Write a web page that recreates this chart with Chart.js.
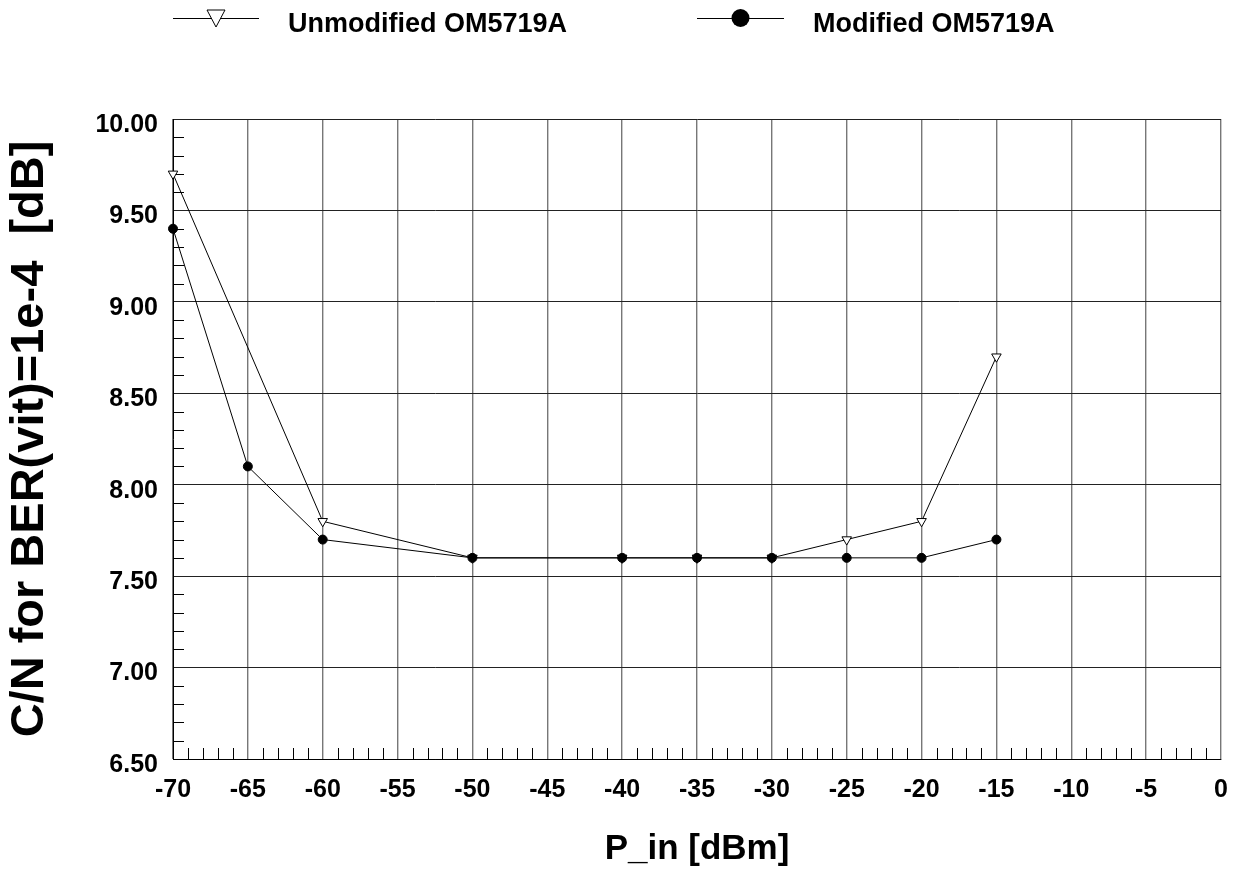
<!DOCTYPE html>
<html>
<head>
<meta charset="utf-8">
<title>C/N vs P_in</title>
<script src="https://cdn.jsdelivr.net/npm/chart.js@4/dist/chart.umd.min.js"></script>
<style>
    html, body { margin: 0; padding: 0; background: #fff; }
</style>
</head>
<body>
<canvas id="cn-chart" width="1239" height="870"></canvas>
<script>
var pinUnmod = [-70, -60, -50, -40, -35, -30, -25, -20, -15];
var cnUnmod  = [9.7, 7.8, 7.6, 7.6, 7.6, 7.6, 7.7, 7.8, 8.7];

var pinMod = [-70, -65, -60, -50, -40, -35, -30, -25, -20, -15];
var cnMod  = [9.4, 8.1, 7.7, 7.6, 7.6, 7.6, 7.6, 7.6, 7.6, 7.7];

var seriesLabels = ['Unmodified OM5719A', 'Modified OM5719A'];

var xTitle = 'P_in [dBm]';
var yTitle = 'C/N for BER(vit)=1e-4  [dB]';

var FONT = "'Liberation Sans', Arial, sans-serif";

function toPoints(xs, ys) {
    return xs.map(function (x, i) { return { x: x, y: ys[i] }; });
}

// legend: a line with the marker in the middle, text to the right
var legendSlots = [
    { from: 173, to: 259, textX: 288 },
    { from: 697, to: 784, textX: 813 }
];

var lineLegend = {
    id: 'lineLegend',
    afterDraw: function (chart) {
        var ctx = chart.ctx;
        chart.data.datasets.forEach(function (ds, i) {
            var slot = legendSlots[i];
            var ly = 18;
            var mx = (slot.from + slot.to) / 2;
            ctx.save();
            ctx.strokeStyle = '#000';
            ctx.lineWidth = 1;
            ctx.beginPath();
            ctx.moveTo(slot.from, ly + 0.5);
            ctx.lineTo(slot.to, ly + 0.5);
            ctx.stroke();
            ctx.beginPath();
            if (ds.pointStyle === 'triangle') {
                ctx.moveTo(mx - 9, ly - 8);
                ctx.lineTo(mx + 9, ly - 8);
                ctx.lineTo(mx, ly + 9);
                ctx.closePath();
                ctx.fillStyle = '#fff';
                ctx.fill();
                ctx.stroke();
            } else {
                ctx.arc(mx, ly, 9, 0, Math.PI * 2);
                ctx.fillStyle = '#000';
                ctx.fill();
            }
            ctx.fillStyle = '#000';
            ctx.font = 'bold 27px ' + FONT;
            ctx.textBaseline = 'middle';
            ctx.textAlign = 'left';
            ctx.fillText(ds.label, slot.textX, 25);
            ctx.restore();
        });
    }
};

// small inside tick marks between the grid lines
var minorTicks = {
    id: 'minorTicks',
    beforeDatasetsDraw: function (chart) {
        var ctx = chart.ctx, xs = chart.scales.x, ys = chart.scales.y, a = chart.chartArea;
        ctx.save();
        ctx.strokeStyle = '#000';
        ctx.lineWidth = 1;
        ctx.beginPath();
        for (var v = xs.min + 1; v < xs.max; v++) {
            if (v % 5 === 0) continue;
            var px = Math.round(xs.getPixelForValue(v)) + 0.5;
            ctx.moveTo(px, a.bottom);
            ctx.lineTo(px, a.bottom - 11);
        }
        for (var k = Math.round(ys.min * 10) + 1; k < Math.round(ys.max * 10); k++) {
            if (k % 5 === 0) continue;
            var py = Math.round(ys.getPixelForValue(k / 10)) + 0.5;
            ctx.moveTo(a.left, py);
            ctx.lineTo(a.left + 11, py);
        }
        ctx.stroke();
        ctx.restore();
    }
};

var ctx = document.getElementById('cn-chart').getContext('2d');

new Chart(ctx, {
    type: 'line',
    data: {
        datasets: [{
            label: seriesLabels[0],
            data: toPoints(pinUnmod, cnUnmod),
            borderColor: '#000',
            borderWidth: 1,
            pointStyle: 'triangle',
            pointRotation: 180,
            pointRadius: 5.5,
            pointBackgroundColor: '#fff',
            pointBorderColor: '#000',
            pointBorderWidth: 1,
            tension: 0,
            clip: false,
            order: 1
        }, {
            label: seriesLabels[1],
            data: toPoints(pinMod, cnMod),
            borderColor: '#000',
            borderWidth: 1,
            pointStyle: 'circle',
            pointRadius: 4.5,
            pointBackgroundColor: '#000',
            pointBorderColor: '#000',
            pointBorderWidth: 1,
            tension: 0,
            clip: false,
            order: 0
        }]
    },
    options: {
        responsive: false,
        animation: false,
        layout: {
            padding: { top: 119, right: 18, bottom: 0, left: 0 }
        },
        scales: {
            x: {
                type: 'linear',
                min: -70,
                max: 0,
                afterFit: function (s) {
                    s.height = 111;
                    s.paddingLeft = 0;
                    s.paddingRight = 0;
                },
                grid: {
                    color: '#777',
                    lineWidth: 1.4,
                    drawTicks: false
                },
                border: { display: true, color: '#000', width: 1 },
                ticks: {
                    stepSize: 5,
                    maxRotation: 0,
                    autoSkip: false,
                    padding: 16,
                    color: '#000',
                    font: { family: FONT, size: 25, weight: 'bold' },
                    callback: function (v) { return String(v); }
                },
                title: {
                    display: true,
                    text: xTitle,
                    color: '#000',
                    font: { family: FONT, size: 35, weight: 'bold' },
                    padding: { top: 0, bottom: 0 }
                }
            },
            y: {
                type: 'linear',
                min: 6.5,
                max: 10,
                afterFit: function (s) {
                    s.width = 173;
                    s.paddingTop = 0;
                    s.paddingBottom = 0;
                },
                grid: {
                    color: '#222',
                    lineWidth: 1,
                    drawTicks: false
                },
                border: { display: true, color: '#000', width: 1 },
                ticks: {
                    stepSize: 0.5,
                    padding: 15,
                    labelOffset: 6,
                    color: '#000',
                    font: { family: FONT, size: 25, weight: 'bold' },
                    callback: function (v) { return Number(v).toFixed(2); }
                },
                title: {
                    display: true,
                    text: yTitle,
                    color: '#000',
                    font: { family: FONT, size: 47, weight: 'bold' },
                    padding: { top: 2, bottom: 0 }
                }
            }
        },
        plugins: {
            legend: { display: false },
            tooltip: { enabled: false }
        }
    },
    plugins: [minorTicks, lineLegend]
});
</script>
</body>
</html>
